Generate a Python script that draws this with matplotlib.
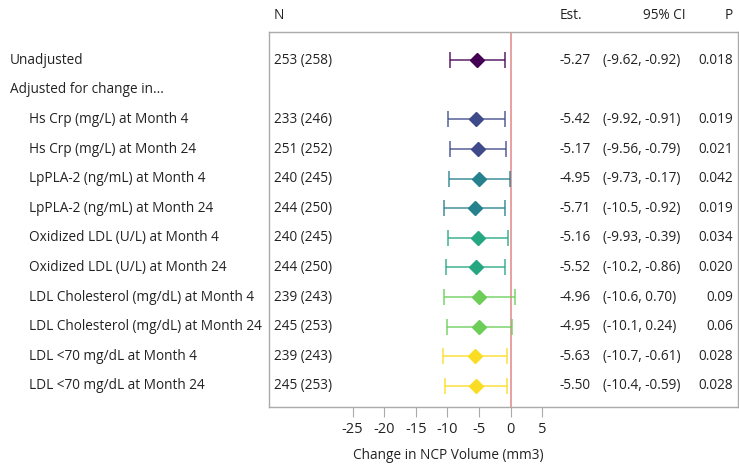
import numpy as np
import matplotlib
matplotlib.use("Agg")
import matplotlib.pyplot as plt

plt.rcParams['font.family'] = ['Open Sans', 'DejaVu Sans']

labels = ["Unadjusted", "Adjusted for change in...",
          "Hs Crp (mg/L) at Month 4", "Hs Crp (mg/L) at Month 24",
          "LpPLA-2 (ng/mL) at Month 4", "LpPLA-2 (ng/mL) at Month 24",
          "Oxidized LDL (U/L) at Month 4", "Oxidized LDL (U/L) at Month 24",
          "LDL Cholesterol (mg/dL) at Month 4", "LDL Cholesterol (mg/dL) at Month 24",
          "LDL <70 mg/dL at Month 4", "LDL <70 mg/dL at Month 24"]
indent = [False, False] + [True] * 10
n_text = ["253 (258)", "", "233 (246)", "251 (252)", "240 (245)", "244 (250)",
          "240 (245)", "244 (250)", "239 (243)", "245 (253)", "239 (243)", "245 (253)"]
est = [-5.27, None, -5.42, -5.17, -4.95, -5.71, -5.16, -5.52, -4.96, -4.95, -5.63, -5.50]
lo = [-9.62, None, -9.92, -9.56, -9.73, -10.5, -9.93, -10.2, -10.6, -10.1, -10.7, -10.4]
hi = [-0.92, None, -0.91, -0.79, -0.17, -0.92, -0.39, -0.86, 0.70, 0.24, -0.61, -0.59]
p_text = ["0.018", "", "0.019", "0.021", "0.042", "0.019", "0.034", "0.020",
          "0.09", "0.06", "0.028", "0.028"]
est_text = ["-5.27", "", "-5.42", "-5.17", "-4.95", "-5.71", "-5.16", "-5.52",
            "-4.96", "-4.95", "-5.63", "-5.50"]
ci_text = ["(-9.62, -0.92)", "", "(-9.92, -0.91)", "(-9.56, -0.79)", "(-9.73, -0.17)",
           "(-10.5, -0.92)", "(-9.93, -0.39)", "(-10.2, -0.86)", "(-10.6, 0.70)",
           "(-10.1, 0.24)", "(-10.7, -0.61)", "(-10.4, -0.59)"]
colors = ["#440154", None, "#3e4a89", "#3e4a89", "#26818e", "#26818e",
          "#25a782", "#25a782", "#6ccd59", "#6ccd59", "#fbdc24", "#fbdc24"]
xticks = [-25, -20, -15, -10, -5, 0, 5]

W, H = 739, 466
fig = plt.figure(figsize=(W / 100, H / 100), dpi=100)
ax = fig.add_axes([269 / W, 1 - 407 / H, (738 - 269) / W, (407 - 32) / H])

xmin, xmax = -38.24, 35.97
ax.set_xlim(xmin, xmax)
ax.set_ylim(11.71, -0.95)

def px(x):
    # pixel column -> data x
    return xmin + (x - 269) / (738 - 269) * (xmax - xmin)

ax.axvline(0, color="#e59a9a", lw=1.3, zorder=1)

fs = 9.8
tc = "#222222"
for i in range(len(labels)):
    ax.text(px(29 if indent[i] else 10), i, labels[i], ha="left", va="center",
            fontsize=fs, color=tc, clip_on=False)
    if est[i] is None:
        continue
    c = colors[i]
    ax.errorbar(est[i], i, xerr=[[est[i] - lo[i]], [hi[i] - est[i]]], fmt="none",
                ecolor=c, alpha=0.75, elinewidth=1.3, capsize=5.5, capthick=1.3, zorder=2)
    ax.plot(est[i], i, marker="D", color=c, markersize=7, zorder=3)
    ax.text(px(274), i, n_text[i], ha="left", va="center", fontsize=fs, color=tc)
    ax.text(px(560), i, est_text[i], ha="left", va="center", fontsize=fs, color=tc)
    ax.text(px(603), i, ci_text[i], ha="left", va="center", fontsize=fs, color=tc)
    ax.text(px(733), i, p_text[i], ha="right", va="center", fontsize=fs, color=tc)

hy = -1.52
ax.text(px(274), hy, "N", ha="left", va="center", fontsize=fs, color=tc, clip_on=False)
ax.text(px(560), hy, "Est.", ha="left", va="center", fontsize=fs, color=tc, clip_on=False)
ax.text(px(686), hy, "95% CI", ha="right", va="center", fontsize=fs, color=tc, clip_on=False)
ax.text(px(733), hy, "P", ha="right", va="center", fontsize=fs, color=tc, clip_on=False)

ax.set_yticks([])
ax.set_xticks(xticks)
ax.set_xticklabels([str(t) for t in xticks], fontsize=10.5, color=tc)
ax.tick_params(axis="x", length=7, color="#aaaaaa", pad=4)
for s in ax.spines.values():
    s.set_color("#aaaaaa")
    s.set_linewidth(1.0)
ax.set_xlabel("Change in NCP Volume (mm3)", fontsize=fs, color=tc)
ax.xaxis.set_label_coords((448 - 269) / (738 - 269), -0.11)

fig.savefig("out.png", dpi=100)
